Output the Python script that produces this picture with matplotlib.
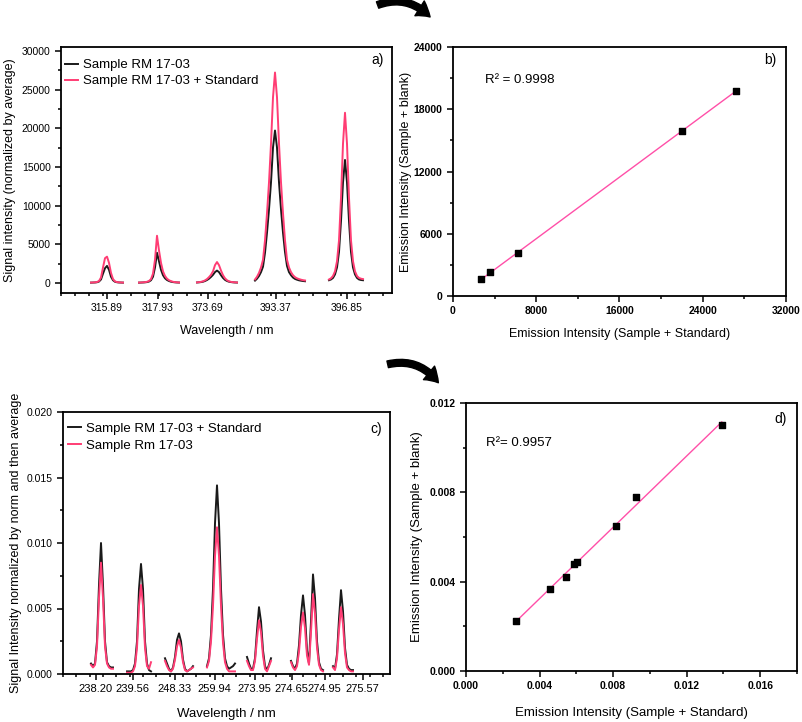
import matplotlib
matplotlib.use('Agg')
import matplotlib.pyplot as plt
import numpy as np
from matplotlib.patches import FancyArrowPatch
from matplotlib.ticker import MultipleLocator, FormatStrFormatter

plt.rcParams['font.family'] = ['Liberation Sans', 'DejaVu Sans']

BLACK = '#1a1a1a'
PINK = '#ff3d74'
FIT = '#ff4fa8'

# ---- panel a: spectra (5 lines, channel index axis) ----
a_labels = ['315.89', '317.93', '373.69', '393.37', '396.85']
a_label_pos = [23, 48.5, 73.5, 107.5, 143]
a_start = [15, 39, 68, 97, 134]
a_sample = [
    [40, 50, 60, 90, 180, 450, 1200, 1900, 2200, 1700, 800, 350, 150, 90, 60, 50, 40],
    [40, 50, 60, 80, 110, 180, 350, 800, 2000, 3900, 2800, 1700, 1000, 600, 380, 250, 160, 110, 80, 60, 50],
    [60, 80, 110, 160, 250, 380, 550, 780, 1050, 1400, 1600, 1400, 1000, 650, 400, 250, 160, 110, 80, 60, 50],
    [300, 550, 900, 1400, 2100, 3900, 6500, 9500, 13000, 17500, 19700, 17500, 13000, 9500, 6500, 4000,
     2200, 1400, 1000, 700, 520, 420, 340, 290, 250, 220],
    [350, 450, 650, 1100, 2000, 4000, 8000, 13000, 15900, 13000, 8000, 4000, 2000, 1100, 650, 450, 380, 350],
]
a_standard = [
    [50, 60, 80, 120, 250, 700, 2000, 3200, 3400, 2600, 1300, 500, 200, 110, 80, 60, 50],
    [50, 60, 80, 100, 150, 250, 500, 1200, 3000, 6100, 4200, 2600, 1500, 900, 550, 350, 230, 150, 100, 80, 60],
    [70, 100, 140, 210, 330, 500, 750, 1050, 1500, 2300, 2700, 2300, 1600, 1000, 600, 350, 210, 140, 100, 80, 60],
    [450, 800, 1300, 2000, 3000, 5500, 9000, 13000, 18000, 24000, 27200, 24000, 18000, 13000, 9000, 5500,
     3000, 2000, 1400, 1000, 750, 600, 500, 420, 360, 320],
    [450, 600, 900, 1500, 2800, 5500, 11000, 18000, 22000, 18000, 11000, 5500, 2800, 1500, 900, 650, 550, 500],
]

# ---- panel b: calibration ----
b_x = [2730, 3530, 6230, 21990, 27190]
b_y = [1630, 2280, 4100, 15930, 19740]

# ---- panel c: spectra ----
c_labels = ['238.20', '239.56', '248.33', '259.94', '273.95', '274.65', '274.95', '275.57']
c_label_pos = [16.3, 34.9, 55.8, 75.8, 95.8, 114.3, 130.8, 149.8]
c_start = [14, 32, 51, 72, 92, 114, 135]
c_standard = [
    [0.0008, 0.0006, 0.0008, 0.0025, 0.0068, 0.0100, 0.0068, 0.0025, 0.0009, 0.0006, 0.0005, 0.0005],
    [0.0002, 0.0002, 0.0002, 0.0003, 0.0008, 0.0025, 0.0065, 0.0084, 0.0065, 0.0025, 0.0008, 0.0003, 0.0002],
    [0.0012, 0.0008, 0.0004, 0.0002, 0.0005, 0.0013, 0.0026, 0.0031, 0.0025, 0.0011, 0.0004, 0.0002,
     0.0003, 0.0004, 0.0006],
    [0.0006, 0.0012, 0.0030, 0.0065, 0.0115, 0.0144, 0.0115, 0.0065, 0.0030, 0.0012, 0.0006, 0.0004,
     0.0005, 0.0006, 0.0008],
    [0.0013, 0.0008, 0.0004, 0.0004, 0.0012, 0.0033, 0.0051, 0.0040, 0.0018, 0.0006, 0.0003, 0.0007, 0.0012],
    [0.0010, 0.0006, 0.0004, 0.0008, 0.0022, 0.0045, 0.0060, 0.0045, 0.0018, 0.0008, 0.0040, 0.0076,
     0.0058, 0.0025, 0.0009, 0.0004, 0.0003],
    [0.0006, 0.0004, 0.0015, 0.0042, 0.0064, 0.0048, 0.0020, 0.0007, 0.0004, 0.0003, 0.0003],
]
c_sample = [
    [0.0007, 0.0005, 0.0007, 0.0021, 0.0058, 0.0085, 0.0058, 0.0021, 0.0008, 0.0005, 0.0004, 0.0004],
    [0.0001, 0.0001, 0.0001, 0.0002, 0.0006, 0.0020, 0.0052, 0.0068, 0.0052, 0.0020, 0.0006, 0.0004, 0.0009],
    [0.0010, 0.0006, 0.0003, 0.0002, 0.0004, 0.0011, 0.0021, 0.0026, 0.0020, 0.0009, 0.0003, 0.0002,
     0.0003, 0.0004, 0.0005],
    [0.0005, 0.0010, 0.0025, 0.0052, 0.0090, 0.0112, 0.0090, 0.0052, 0.0024, 0.0009, 0.0004, 0.0002,
     0.0002, 0.0002, 0.0002],
    [0.0010, 0.0006, 0.0003, 0.0003, 0.0010, 0.0027, 0.0041, 0.0032, 0.0014, 0.0004, 0.0002, 0.0006, 0.0010],
    [0.0009, 0.0005, 0.0003, 0.0006, 0.0017, 0.0036, 0.0047, 0.0035, 0.0014, 0.0007, 0.0032, 0.0061,
     0.0046, 0.0020, 0.0007, 0.0003, 0.0002],
    [0.0005, 0.0003, 0.0012, 0.0034, 0.0051, 0.0038, 0.0016, 0.0005, 0.0003, 0.0002, 0.0002],
]

# ---- panel d: calibration ----
d_x = [0.00272, 0.00459, 0.00546, 0.00590, 0.00606, 0.00815, 0.00923, 0.01391]
d_y = [0.00225, 0.00367, 0.00423, 0.00477, 0.00487, 0.00651, 0.00780, 0.01100]

W, H = 803, 722
fig = plt.figure(figsize=(W / 100, H / 100), dpi=100)


def box(l, t, r, b):
    return [l / W, 1 - b / H, (r - l) / W, (b - t) / H]


def style(ax, bold=False):
    for s in ax.spines.values():
        s.set_linewidth(1.3)
    ax.tick_params(which='both', direction='out', width=1.1, labelsize=7.5, top=False, right=False)
    ax.tick_params(which='major', length=4)
    ax.tick_params(which='minor', length=2.5)
    if bold:
        for t in ax.get_xticklabels() + ax.get_yticklabels():
            t.set_fontweight('bold')


def spectra(ax, starts, s1, s2, c1, c2, lab1, lab2):
    for i, (st, y1, y2) in enumerate(zip(starts, s1, s2)):
        x = np.arange(st, st + len(y1))
        ax.plot(x, y1, color=c1, lw=1.4, label=lab1 if i == 0 else None)
        ax.plot(x, y2, color=c2, lw=1.4, label=lab2 if i == 0 else None)


# panel a
ax = fig.add_axes(box(61, 47, 392, 293))
spectra(ax, a_start, a_sample, a_standard, BLACK, PINK,
        'Sample RM 17-03', 'Sample RM 17-03 + Standard')
ax.set_xlim(0, 165.5)
ax.set_ylim(-1300, 30500)
ax.set_xticks(a_label_pos)
ax.set_xticklabels(a_labels)
ax.xaxis.set_minor_locator(MultipleLocator(7))
ax.yaxis.set_major_locator(MultipleLocator(5000))
ax.yaxis.set_minor_locator(MultipleLocator(2500))
style(ax)
ax.set_xlabel('Wavelength / nm', fontsize=9, labelpad=8)
ax.set_ylabel('Signal intensity (normalized by average)', fontsize=9, labelpad=4)
ax.legend(loc='upper left', bbox_to_anchor=(-0.004, 0.972), frameon=False, fontsize=9.5,
          handlelength=1.0, handletextpad=0.4, borderaxespad=0, labelspacing=0.28)
ax.text(0.975, 0.93, 'a)', transform=ax.transAxes, ha='right', fontsize=10)

# panel b
ax = fig.add_axes(box(453, 47, 786, 296))
ax.scatter(b_x, b_y, marker='s', s=22, color='black', zorder=3)
k, m = np.polyfit(b_x, b_y, 1)
xx = np.array([min(b_x), max(b_x)])
ax.plot(xx, k * xx + m, color=FIT, lw=1.0)
ax.set_xlim(0, 32000)
ax.set_ylim(0, 24000)
ax.xaxis.set_major_locator(MultipleLocator(8000))
ax.xaxis.set_minor_locator(MultipleLocator(4000))
ax.yaxis.set_major_locator(MultipleLocator(6000))
ax.yaxis.set_minor_locator(MultipleLocator(3000))
style(ax, bold=True)
ax.set_xlabel('Emission Intensity (Sample + Standard)', fontsize=9, labelpad=8)
ax.set_ylabel('Emission Intensity (Sample + blank)', fontsize=9, labelpad=1)
ax.text(0.097, 0.855, 'R² = 0.9998', transform=ax.transAxes, fontsize=9.5)
ax.text(0.97, 0.93, 'b)', transform=ax.transAxes, ha='right', fontsize=10)

# panel c
ax = fig.add_axes(box(63, 412, 390, 674))
spectra(ax, c_start, c_standard, c_sample, BLACK, PINK,
        'Sample RM 17-03 + Standard', 'Sample Rm 17-03')
ax.set_xlim(0, 163.5)
ax.set_ylim(0, 0.020)
ax.set_xticks(c_label_pos)
ax.set_xticklabels(c_labels)
ax.xaxis.set_minor_locator(MultipleLocator(6.67))
ax.yaxis.set_major_locator(MultipleLocator(0.005))
ax.yaxis.set_minor_locator(MultipleLocator(0.0025))
ax.yaxis.set_major_formatter(FormatStrFormatter('%.3f'))
style(ax)
ax.tick_params(axis='x', labelsize=8)
ax.set_xlabel('Wavelength / nm', fontsize=9.5, labelpad=10)
ax.set_ylabel('Signal Intensity normalized by norm and then average', fontsize=9, labelpad=3)
ax.legend(loc='upper left', bbox_to_anchor=(-0.001, 0.98), frameon=False, fontsize=9.5,
          handlelength=1.0, handletextpad=0.4, borderaxespad=0, labelspacing=0.35)
ax.text(0.975, 0.92, 'c)', transform=ax.transAxes, ha='right', fontsize=10)

# panel d
ax = fig.add_axes(box(466, 403, 797, 671))
ax.scatter(d_x, d_y, marker='s', s=22, color='black', zorder=3)
k, m = np.polyfit(d_x, d_y, 1)
xx = np.array([min(d_x), max(d_x)])
ax.plot(xx, k * xx + m, color=FIT, lw=1.0)
ax.set_xlim(0, 0.018)
ax.set_ylim(0, 0.012)
ax.xaxis.set_major_locator(MultipleLocator(0.004))
ax.xaxis.set_minor_locator(MultipleLocator(0.002))
ax.yaxis.set_major_locator(MultipleLocator(0.004))
ax.yaxis.set_minor_locator(MultipleLocator(0.002))
ax.xaxis.set_major_formatter(FormatStrFormatter('%.3f'))
ax.yaxis.set_major_formatter(FormatStrFormatter('%.3f'))
style(ax, bold=True)
ax.set_xlabel('Emission Intensity (Sample + Standard)', fontsize=9.5, labelpad=11)
ax.set_ylabel('Emission Intensity (Sample + blank)', fontsize=9.5, labelpad=5)
ax.text(0.06, 0.84, 'R²= 0.9957', transform=ax.transAxes, fontsize=9.5)
ax.text(0.97, 0.925, 'd)', transform=ax.transAxes, ha='right', fontsize=10)

# curved arrows
for (x0, y0), (x1, y1) in [((375, 6), (432, 19)), ((385, 365), (440, 385))]:
    arr = FancyArrowPatch((x0 / W, 1 - y0 / H), (x1 / W, 1 - y1 / H), transform=fig.transFigure,
                          connectionstyle='arc3,rad=-0.35',
                          arrowstyle='simple,head_length=0.7,head_width=0.9,tail_width=0.35',
                          mutation_scale=14, color='black')
    fig.patches.append(arr)

fig.savefig('out.png', dpi=100)
